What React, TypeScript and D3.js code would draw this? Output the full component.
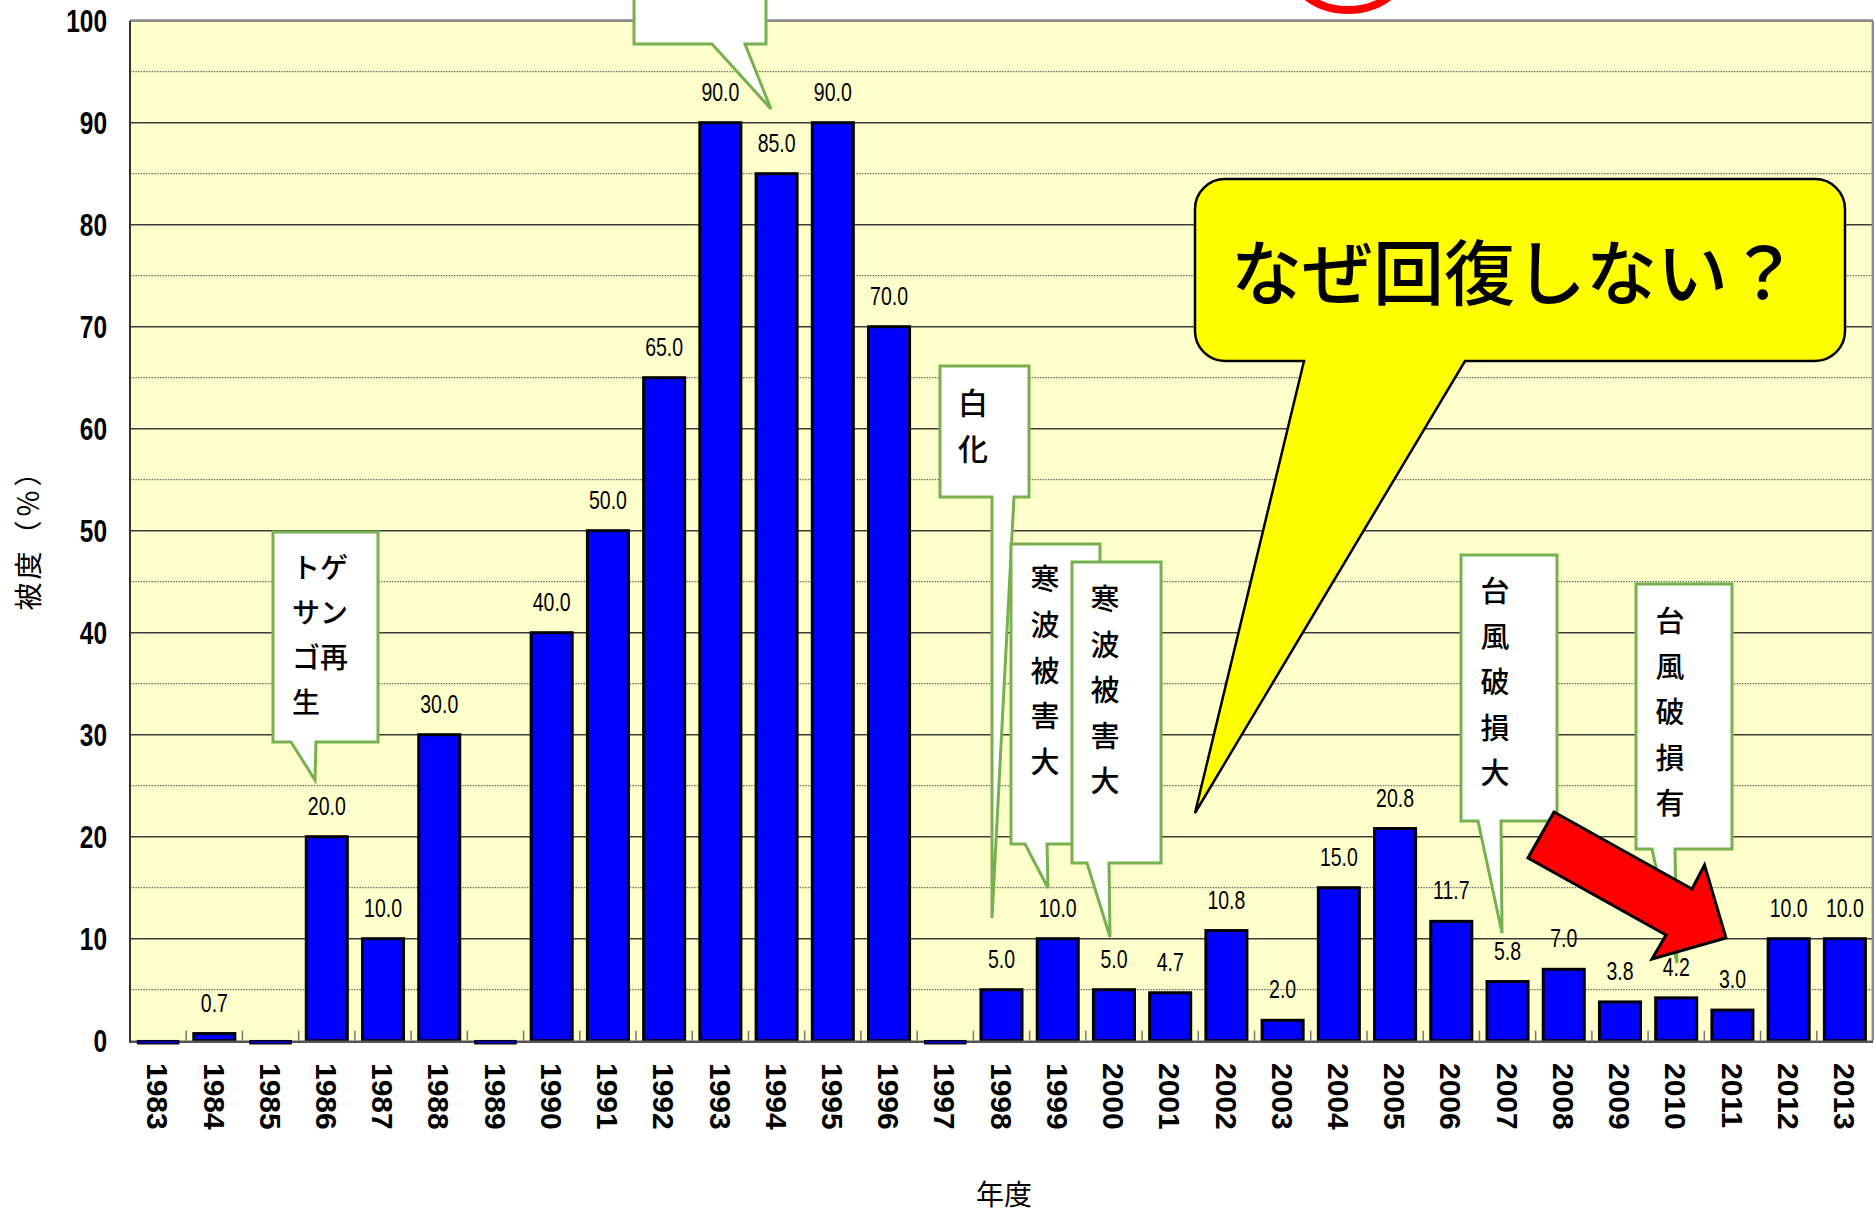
import * as d3 from 'd3';

// coral cover per survey year (%), 0 = not surveyed / none
const years = [
  '1983', '1984', '1985', '1986', '1987', '1988', '1989', '1990', '1991', '1992',
  '1993', '1994', '1995', '1996', '1997', '1998', '1999', '2000', '2001', '2002',
  '2003', '2004', '2005', '2006', '2007', '2008', '2009', '2010', '2011', '2012', '2013',
];
const cover = [
  0, 0.7, 0, 20.0, 10.0, 30.0, 0, 40.0, 50.0, 65.0,
  90.0, 85.0, 90.0, 70.0, 0, 5.0, 10.0, 5.0, 4.7, 10.8,
  2.0, 15.0, 20.8, 11.7, 5.8, 7.0, 3.8, 4.2, 3.0, 10.0, 10.0,
];
const yTicks = [0, 10, 20, 30, 40, 50, 60, 70, 80, 90, 100];
const minorTicks = [5, 15, 25, 35, 45, 55, 65, 75, 85, 95];

const yTitle = '被度（％）';
const xTitle = '年度';
const bigQuestion = 'なぜ回復しない？';

const notes = [
  { lines: [] as string[], box: [634, -20, 766, 44], base: [712, 745], tip: [771, 109], tx: 700, ty: 0, step: 45, size: 28, anchor: 'middle' },
  { lines: ['トゲ', 'サン', 'ゴ再', '生'], box: [273, 532, 378, 742], base: [291, 316], tip: [315, 780], tx: 292, ty: 566, step: 45, size: 28, anchor: 'start' },
  { lines: ['白', '化'], box: [940, 366, 1029, 497], base: [992, 1014], tip: [992, 918], tx: 973, ty: 401, step: 46, size: 30, anchor: 'middle' },
  { lines: ['寒', '波', '被', '害', '大'], box: [1011, 544, 1100, 844], base: [1025, 1047], tip: [1048, 888], tx: 1045, ty: 577, step: 45.8, size: 29, anchor: 'middle' },
  { lines: ['寒', '波', '被', '害', '大'], box: [1072, 562, 1161, 863], base: [1087, 1109], tip: [1110, 937], tx: 1105, ty: 597, step: 45.5, size: 29, anchor: 'middle' },
  { lines: ['台', '風', '破', '損', '大'], box: [1461, 555, 1557, 821], base: [1478, 1501], tip: [1502, 933], tx: 1495, ty: 589, step: 45.5, size: 29, anchor: 'middle' },
  { lines: ['台', '風', '破', '損', '有'], box: [1636, 584, 1732, 849], base: [1652, 1675], tip: [1677, 963], tx: 1670, ty: 619, step: 45.5, size: 29, anchor: 'middle' },
];

const W = 1874;
const H = 1217;
const plot = { left: 130, right: 1873, top: 20.7, bottom: 1040.7 };

const latin = '"Liberation Sans", Arial, sans-serif';
const cjk = '"Noto Sans CJK JP", "Noto Sans CJK SC", sans-serif';
const green = '#76B04F';

function calloutPath(n: typeof notes[number]) {
  const [x0, y0, x1, y1] = n.box;
  const [b1, b2] = n.base;
  const [tx, ty] = n.tip;
  return `M${x0},${y0}H${x1}V${y1}H${b2}L${tx},${ty}L${b1},${y1}H${x0}Z`;
}

function bigBubble() {
  const x0 = 1195, y0 = 179, x1 = 1845, y1 = 361, r = 30;
  return [
    `M${x0 + r},${y0}`,
    `H${x1 - r}`,
    `A${r},${r} 0 0 1 ${x1},${y0 + r}`,
    `V${y1 - r}`,
    `A${r},${r} 0 0 1 ${x1 - r},${y1}`,
    `H1465`,
    `L1195,813`,
    `L1304,${y1}`,
    `H${x0 + r}`,
    `A${r},${r} 0 0 1 ${x0},${y1 - r}`,
    `V${y0 + r}`,
    `A${r},${r} 0 0 1 ${x0 + r},${y0}`,
    'Z',
  ].join(' ');
}

const redArrow = [
  [1554, 812], [1692, 889], [1704.5, 865], [1726, 938], [1652, 959], [1666, 935], [1528, 858],
];

export default function App() {
  const x = d3.scaleBand<string>()
    .domain(years)
    .range([plot.left, plot.right])
    .paddingInner(0.27)
    .paddingOuter(0.135);
  const y = d3.scaleLinear().domain([0, 100]).range([plot.bottom, plot.top]);
  const step = x.step();
  const bw = x.bandwidth();
  const y0 = y(0);

  const rows = years.map((yr, i) => ({ yr, v: cover[i] }));

  return (
    <svg
      width={W}
      height={H}
      viewBox={`0 0 ${W} ${H}`}
      style={{ position: 'absolute', left: 0, top: 0, background: '#fff' }}
    >
      {/* plot area */}
      <rect x={plot.left} y={plot.top} width={plot.right - plot.left} height={plot.bottom - plot.top} fill="#FFFFCC" />

      {/* minor dotted grid */}
      {minorTicks.map(t => (
        <line key={'m' + t} x1={plot.left} x2={plot.right} y1={y(t)} y2={y(t)}
          stroke="#6a6a6a" strokeWidth={1.3} strokeDasharray="1.5 1.2" />
      ))}
      {/* major grid */}
      {yTicks.filter(t => t > 0 && t < 100).map(t => (
        <line key={'g' + t} x1={plot.left} x2={plot.right} y1={y(t)} y2={y(t)}
          stroke="#3c3c3c" strokeWidth={1.5} />
      ))}
      <line x1={plot.left} x2={plot.right} y1={y(100)} y2={y(100)} stroke="#8c8c8c" strokeWidth={2.8} />
      <line x1={plot.right} x2={plot.right} y1={plot.top} y2={plot.bottom} stroke="#8c8c8c" strokeWidth={2.8} />

      {/* bars */}
      {rows.map(d => d.v > 0 ? (
        <rect key={d.yr} x={x(d.yr)!} y={y(d.v)} width={bw} height={y0 - y(d.v)}
          fill="#0000FF" stroke="#000" strokeWidth={3} />
      ) : null)}

      {/* x axis with inner ticks */}
      <line x1={plot.left} x2={plot.right} y1={y0 + 1} y2={y0 + 1} stroke="#555" strokeWidth={2.5} />
      {years.slice(1).map(yr => (
        <line key={'t' + yr} x1={x(yr)! - (step - bw) / 2} x2={x(yr)! - (step - bw) / 2}
          y1={y0 - 10} y2={y0} stroke="#777" strokeWidth={1.5} />
      ))}
      {rows.map(d => d.v === 0 ? (
        <rect key={'z' + d.yr} x={x(d.yr)!} y={y0} width={bw} height={3}
          fill="#0000FF" stroke="#000" strokeWidth={1.5} />
      ) : null)}
      <line x1={plot.left} x2={plot.left} y1={plot.top} y2={y0 + 2} stroke="#333" strokeWidth={2} />

      {/* y tick labels */}
      {yTicks.map(t => (
        <text key={'y' + t} transform={`translate(107,${y(t) + 11.5}) scale(0.765,1)`}
          textAnchor="end" fontFamily={latin} fontWeight="bold" fontSize={32} fill="#000">
          {t}
        </text>
      ))}

      {/* x tick labels */}
      {years.map(yr => (
        <text key={'x' + yr} transform={`translate(${x(yr)! + bw / 2},1063) rotate(90)`}
          dy="0.36em" textAnchor="start" fontFamily={latin} fontWeight="bold" fontSize={30} fill="#000">
          {yr}
        </text>
      ))}

      {/* data labels */}
      {rows.map(d => d.v > 0 ? (
        <text key={'l' + d.yr} transform={`translate(${x(d.yr)! + bw / 2},${y(d.v) - 22}) scale(0.78,1)`}
          textAnchor="middle" fontFamily={latin} fontSize={25} fill="#000">
          {d.v.toFixed(1)}
        </text>
      ) : null)}

      {/* axis titles */}
      <text transform="translate(27,533) rotate(-90)" textAnchor="middle" dominantBaseline="central"
        fontFamily={cjk} fontSize={28} letterSpacing={3} fill="#000">{yTitle}</text>
      <text x={1004} y={1193} textAnchor="middle" dominantBaseline="central"
        fontFamily={cjk} fontSize={28} fill="#000">{xTitle}</text>

      {/* callouts */}
      {notes.map((n, i) => (
        <g key={'n' + i}>
          <path d={calloutPath(n)} fill="#fff" stroke={green} strokeWidth={3} />
          {n.lines.map((s, j) => (
            <text key={j} x={n.tx} y={n.ty + j * n.step} textAnchor={n.anchor as any}
              dominantBaseline="central" fontFamily={cjk} fontWeight={500} fontSize={n.size} fill="#000">
              {s}
            </text>
          ))}
        </g>
      ))}

      {/* big question bubble */}
      <path d={bigBubble()} fill="#FFFF00" stroke="#000" strokeWidth={2.5} />
      <text x={1515} y={268} textAnchor="middle" dominantBaseline="central"
        fontFamily={cjk} fontWeight={500} fontSize={71} fill="#000">{bigQuestion}</text>

      {/* red arrow */}
      <polygon points={redArrow.map(p => p.join(',')).join(' ')} fill="#FF0000" stroke="#000"
        strokeWidth={3} strokeLinejoin="miter" />

      {/* red ring at top edge */}
      <ellipse cx={1348} cy={-30} rx={55} ry={40} fill="none" stroke="#FF0000" strokeWidth={8} />
    </svg>
  );
}
